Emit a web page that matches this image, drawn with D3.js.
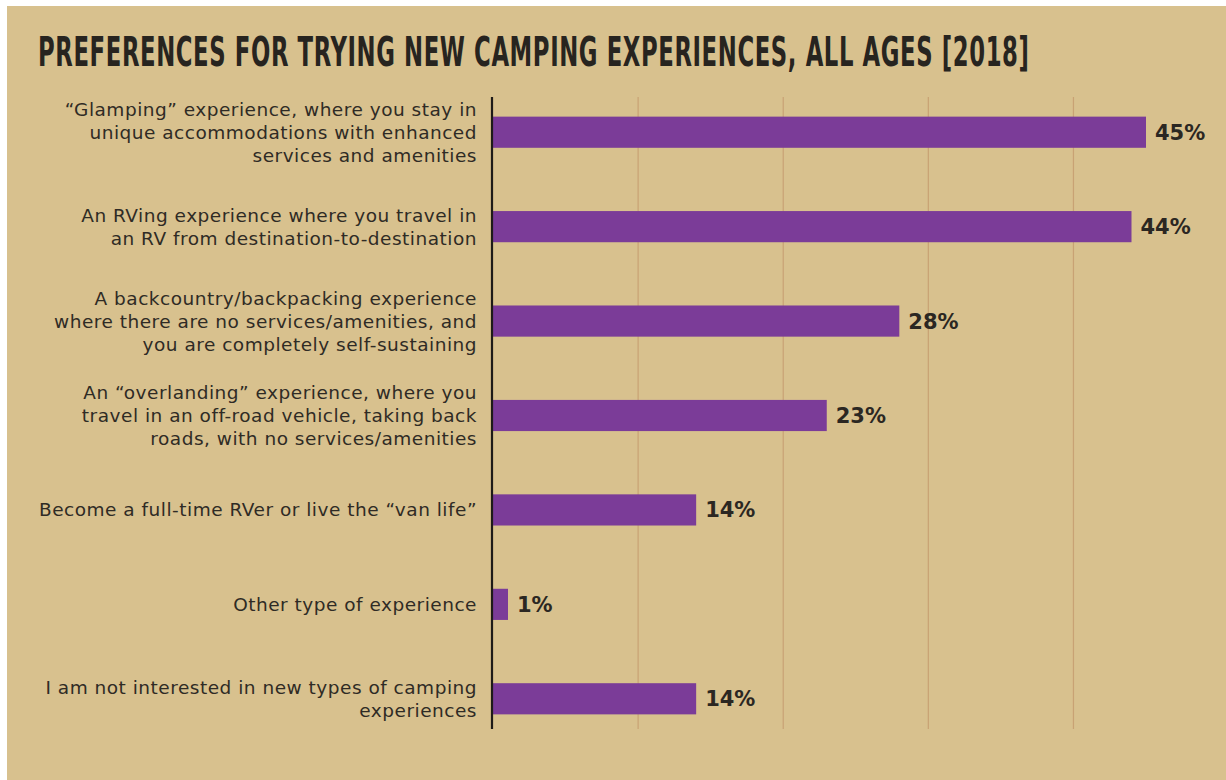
<!DOCTYPE html>
<html>
<head>
<meta charset="utf-8">
<script src="https://cdn.jsdelivr.net/npm/d3@7"></script>
<style>
  html, body { margin: 0; padding: 0; background: #ffffff; }
  svg { display: block; }
</style>
</head>
<body>
<div id="chart"></div>
<script>
// Survey answers, one string per bar; "\n" marks a line break in the label
const categories = [
  "\u201cGlamping\u201d experience, where you stay in\nunique accommodations with enhanced\nservices and amenities",
  "An RVing experience where you travel in\nan RV from destination-to-destination",
  "A backcountry/backpacking experience\nwhere there are no services/amenities, and\nyou are completely self-sustaining",
  "An \u201coverlanding\u201d experience, where you\ntravel in an off-road vehicle, taking back\nroads, with no services/amenities",
  "Become a full-time RVer or live the \u201cvan life\u201d",
  "Other type of experience",
  "I am not interested in new types of camping\nexperiences"
];
const values = [45, 44, 28, 23, 14, 1, 14];
const gridTicks = [10, 20, 30, 40];
const title = "PREFERENCES FOR TRYING NEW CAMPING EXPERIENCES, ALL AGES [2018]";

const W = 1226, H = 780;
const svg = d3.select("#chart").append("svg")
  .attr("width", W).attr("height", H);

// beige panel with a thin white margin at top and left
svg.append("rect").attr("x", 7).attr("y", 6)
  .attr("width", W - 7).attr("height", H - 6)
  .attr("fill", "#d8c18e");

// title in a tall condensed face, squeezed horizontally to its line width
const titleText = svg.append("text")
  .attr("font-family", "'DejaVu Sans Condensed', 'DejaVu Sans', sans-serif")
  .attr("font-weight", "bold")
  .attr("font-size", 41)
  .attr("letter-spacing", 1)
  .attr("fill", "#27241f")
  .text(title);
const titleLen = titleText.node().getComputedTextLength();
titleText.attr("transform", `translate(38,66) scale(${992 / titleLen},1)`);

const x = d3.scaleLinear().domain([0, 45]).range([493, 1146]);
const y = d3.scaleBand().domain(categories).range([85, 746])
  .paddingInner(0.67).paddingOuter(0.335);

const axisTop = 97, axisBottom = 729;

// vertical gridlines
svg.append("g").selectAll("line").data(gridTicks).join("line")
  .attr("x1", d => x(d)).attr("x2", d => x(d))
  .attr("y1", axisTop).attr("y2", axisBottom)
  .attr("stroke", "#c8a274").attr("stroke-width", 1.2);

// bars
const barW = d => Math.max(x(d) - x(0), 15);
svg.append("g").selectAll("rect").data(values).join("rect")
  .attr("x", x(0))
  .attr("y", (d, i) => y(categories[i]))
  .attr("width", barW)
  .attr("height", y.bandwidth())
  .attr("fill", "#7b3c98");

// baseline axis
svg.append("line")
  .attr("x1", x(0) - 1).attr("x2", x(0) - 1)
  .attr("y1", axisTop).attr("y2", axisBottom)
  .attr("stroke", "#1e1b18").attr("stroke-width", 2.2);

// value labels
svg.append("g").selectAll("text").data(values).join("text")
  .attr("x", d => x(0) + barW(d) + 9)
  .attr("y", (d, i) => y(categories[i]) + y.bandwidth() / 2)
  .attr("dy", "0.36em")
  .attr("font-family", "'DejaVu Sans', sans-serif")
  .attr("font-weight", "bold")
  .attr("font-size", 21)
  .attr("fill", "#2b2722")
  .text(d => d + "%");

// category labels, right-aligned, centred on each bar
const lineH = 23;
const labels = svg.append("g")
  .attr("font-family", "'DejaVu Sans', sans-serif")
  .attr("font-size", 18.5)
  .attr("letter-spacing", 0.5)
  .attr("fill", "#2f2b25")
  .attr("text-anchor", "end");

categories.forEach((c, i) => {
  const lines = c.split("\n");
  const cy = y(c) + y.bandwidth() / 2;
  const t = labels.append("text")
    .attr("x", 477)
    .attr("y", cy - (lines.length - 1) / 2 * lineH);
  lines.forEach((ln, j) => {
    t.append("tspan")
      .attr("x", 477)
      .attr("dy", j === 0 ? "0.35em" : lineH)
      .text(ln);
  });
});
</script>
</body>
</html>
